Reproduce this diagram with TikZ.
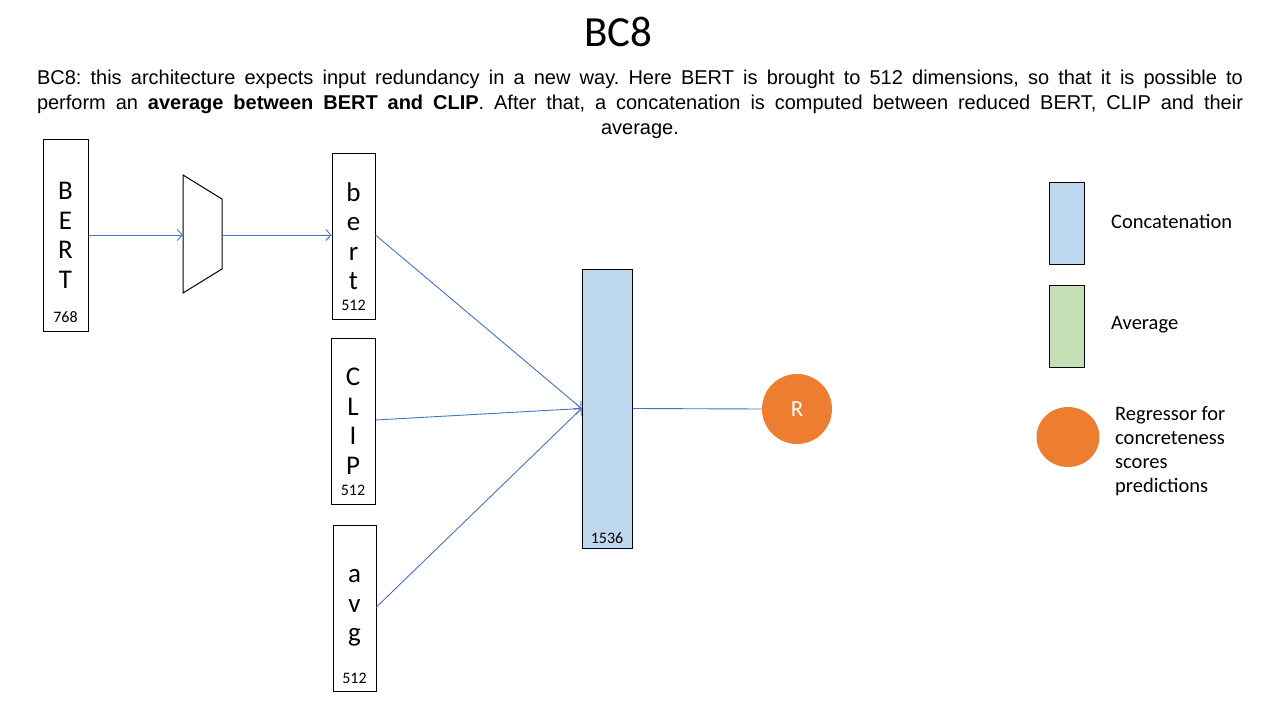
\documentclass[tikz,border=0pt]{standalone}
\usepackage{fontspec}
\setmainfont{Carlito}
\newfontfamily\arialfont{Liberation Sans}
\usetikzlibrary{arrows.meta,shapes.geometric}
\definecolor{arrowblue}{HTML}{4472C4}
\definecolor{concatblue}{HTML}{BDD7EE}
\definecolor{avggreen}{HTML}{C5E0B4}
\definecolor{regorange}{HTML}{ED7D31}
\frenchspacing
\begin{document}
\begin{tikzpicture}[x=1pt,y=-1pt,
  vecbox/.style={draw=black, line width=1pt, fill=white, inner sep=0pt, align=center,
    font=\fontsize{27}{29.5}\selectfont},
  dimlabel/.style={font=\fontsize{16}{16}\selectfont, inner sep=0pt},
  conn/.style={draw=arrowblue, line width=0.9pt, -{Straight Barb[length=5pt,width=11pt]}},
  plainconn/.style={draw=arrowblue, line width=0.9pt},
  legtext/.style={font=\fontsize{20.5}{24}\selectfont, inner sep=0pt, align=left},
  desc/.style={font=\arialfont\fontsize{20}{25}\selectfont, inner sep=0pt}
]
\useasboundingbox (0,0) rectangle (1280,720);

% title and description
\node[font=\fontsize{43}{43}\selectfont, inner sep=0pt] (title) at (618.5,32) {BC8};
\node[desc, anchor=base] (d1) at (640,84) {\makebox[1206pt][s]{BC8: this architecture expects input redundancy in a new way. Here BERT is brought to 512 dimensions, so that it is possible to}};
\node[desc, anchor=base] (d2) at (640,109) {\makebox[1206pt][s]{perform an \textbf{average between BERT and CLIP}. After that, a concatenation is computed between reduced BERT, CLIP and their}};
\node[desc, anchor=base] (d3) at (640,134) {average.};

% BERT input
\node[vecbox, minimum width=45pt, minimum height=192pt] (BERT) at (65.5,235.5) {B\\E\\R\\T};
\node[dimlabel] (BERTdim) at (65.5,317) {768};

% reduction trapezoid
\draw[line width=1pt] (183,175) -- (222,199) -- (222,269) -- (183,293) -- cycle;
\coordinate (redin) at (183,235);
\coordinate (redout) at (222,235);

% reduced bert
\node[vecbox, minimum width=43pt, minimum height=166pt] (bert) at (353.5,236) {b\\e\\r\\t};
\node[dimlabel] (bertdim) at (353.5,305) {512};

% CLIP
\node[vecbox, minimum width=44pt, minimum height=166pt] (CLIP) at (353,421) {C\\L\\I\\P};
\node[dimlabel] (CLIPdim) at (353,490) {512};

% avg
\node[vecbox, minimum width=43pt, minimum height=166pt] (avg) at (354.5,608) {a\\v\\g};
\node[dimlabel] (avgdim) at (354.5,678) {512};

% concatenation
\node[draw=black, line width=1pt, fill=concatblue, minimum width=50pt, minimum height=279pt, inner sep=0pt] (concat) at (607,408.5) {};
\node[dimlabel] (concatdim) at (607,538) {1536};

% regressor
\node[circle, fill=regorange, minimum size=70pt, inner sep=0pt, text=white, font=\fontsize{23}{23}\selectfont] (R) at (797,409) {R};

% connectors
\draw[conn] (BERT.east |- redin) -- (redin);
\draw[conn] (redout) -- (bert.west |- redout);
\draw[conn] (bert.east |- redout) -- (concat.west);
\draw[conn] (CLIP.east |- 0,420) -- (concat.west);
\draw[conn] (avg.east |- 0,607) -- (concat.west);
\draw[plainconn] (concat.east) -- (R.west);

% legend
\node[draw=black, line width=1pt, fill=concatblue, minimum width=35pt, minimum height=82pt, inner sep=0pt] (legconcat) at (1066.5,223) {};
\node[legtext, anchor=west] (legconcattext) at (1111,221) {Concatenation};
\node[draw=black, line width=1pt, fill=avggreen, minimum width=35pt, minimum height=82pt, inner sep=0pt] (legavg) at (1066.5,326) {};
\node[legtext, anchor=west] (legavgtext) at (1111,325) {Average};
\node[ellipse, fill=regorange, minimum width=63pt, minimum height=60pt, inner sep=0pt] (legreg) at (1068,437) {};
\node[legtext, anchor=north west] (legregtext) at (1115,406) {Regressor for\\concreteness\\scores\\predictions};
\end{tikzpicture}
\end{document}
